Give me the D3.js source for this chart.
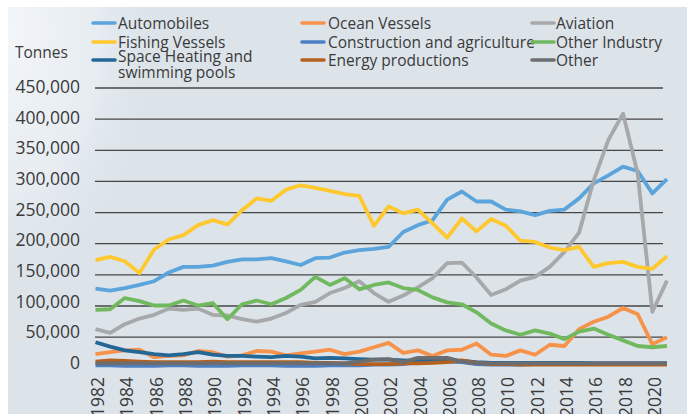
<!DOCTYPE html>
<html>
<head>
<meta charset="utf-8">
<script src="https://cdn.jsdelivr.net/npm/d3@7"></script>
<style>
  body { margin: 0; background: #fff; }
  svg { display: block; font-family: "Open Sans", "Noto Sans", sans-serif; }
</style>
</head>
<body>
<script>
// years 1982 - 2021, values in tonnes
let years = [1982, 1983, 1984, 1985, 1986, 1987, 1988, 1989, 1990, 1991,
  1992, 1993, 1994, 1995, 1996, 1997, 1998, 1999, 2000, 2001,
  2002, 2003, 2004, 2005, 2006, 2007, 2008, 2009, 2010, 2011,
  2012, 2013, 2014, 2015, 2016, 2017, 2018, 2019, 2020, 2021];

let yearLabels = [1982, 1984, 1986, 1988, 1990, 1992, 1994, 1996, 1998, 2000,
  2002, 2004, 2006, 2008, 2010, 2012, 2014, 2016, 2018, 2020];

let yTicks = [0, 50000, 100000, 150000, 200000, 250000, 300000, 350000, 400000, 450000];

let seriesNames = ["Automobiles", "Ocean Vessels", "Aviation", "Fishing Vessels",
  "Construction and agriculture", "Other Industry",
  "Space Heating and swimming pools", "Energy productions", "Other"];

let seriesColors = ["#5ba4dc", "#f7924a", "#a7a8aa", "#fec82e",
  "#4c7fc4", "#71b95f", "#236797", "#b4611f", "#6c6d70"];

// thousands of tonnes
let automobiles = [127, 124, 128, 133, 139, 153, 162, 162, 164, 170, 174, 174, 176, 171, 165, 176, 177, 185, 189, 191,
  194, 218, 229, 237, 270, 283, 267, 267, 254, 251, 245, 252, 254, 272, 296, 309, 323, 316, 280, 303];
let oceanVessels = [22, 25, 28, 29, 17, 19, 20, 27, 25, 18, 20, 27, 26, 20, 23, 26, 29, 22, 26, 33,
  40, 24, 28, 19, 28, 29, 39, 21, 19, 28, 21, 37, 35, 62, 74, 82, 96, 86, 38, 49];
let aviation = [62, 56, 70, 79, 85, 95, 93, 95, 85, 84, 78, 74, 79, 88, 101, 106, 120, 128, 139, 120,
  106, 116, 129, 144, 168, 169, 145, 117, 126, 140, 146, 162, 186, 217, 301, 366, 408, 312, 90, 140];
let fishingVessels = [173, 178, 171, 152, 190, 206, 213, 229, 237, 230, 253, 272, 268, 286, 293, 289, 284, 279, 276, 228,
  259, 248, 254, 232, 209, 240, 219, 239, 228, 204, 202, 193, 189, 194, 162, 168, 170, 162, 159, 179];
let construction = [4, 4, 3, 3, 3, 4, 4, 3, 3, 3, 4, 4, 4, 3, 3, 3, 4, 4, 4, 5,
  5, 6, 9, 10, 10, 9, 6, 5, 5, 5, 6, 6, 6, 7, 7, 7, 7, 7, 7, 7];
let otherIndustry = [93, 94, 112, 107, 100, 100, 108, 100, 104, 78, 102, 108, 102, 112, 125, 146, 133, 144, 126, 133,
  137, 128, 125, 113, 105, 102, 89, 71, 60, 53, 60, 55, 46, 58, 63, 53, 44, 35, 33, 35];
let spaceHeating = [41, 34, 28, 25, 22, 20, 22, 25, 21, 19, 19, 18, 17, 19, 18, 15, 16, 15, 14, 13,
  13, 12, 11, 11, 12, 11, 9, 8, 8, 8, 8, 8, 8, 8, 7, 7, 7, 7, 7, 7];
let energy = [10, 12, 11, 10, 9, 9, 9, 9, 10, 9, 9, 9, 9, 9, 9, 8, 8, 7, 6, 6,
  6, 7, 7, 8, 9, 12, 8, 6, 6, 5, 5, 5, 5, 5, 5, 5, 5, 5, 5, 5];
let other = [7, 7, 7, 7, 7, 7, 7, 7, 7, 7, 7, 7, 7, 7, 7, 7, 7, 7, 10, 13,
  14, 9, 16, 16, 16, 10, 7, 7, 7, 7, 7, 7, 7, 7, 7, 7, 7, 7, 7, 7];

let seriesValues = [automobiles, oceanVessels, aviation, fishingVessels,
  construction, otherIndustry, spaceHeating, energy, other];

let width = 694, height = 414;

let svg = d3.select("body").append("svg")
  .attr("width", width)
  .attr("height", height);

// background panel + a pale haze top left (stands in for the photo)
let defs = svg.append("defs");
let haze = defs.append("radialGradient").attr("id", "haze")
  .attr("cx", "0%").attr("cy", "10%").attr("r", "100%");
haze.append("stop").attr("offset", "0%").attr("stop-color", "#f4f7fa").attr("stop-opacity", 0.95);
haze.append("stop").attr("offset", "60%").attr("stop-color", "#eef2f6").attr("stop-opacity", 0.6);
haze.append("stop").attr("offset", "100%").attr("stop-color", "#dce4ea").attr("stop-opacity", 0);

svg.append("rect").attr("x", 8).attr("y", 7).attr("width", 679).attr("height", 407).attr("fill", "#dce4ea");
svg.append("rect").attr("x", 8).attr("y", 7).attr("width", 150).attr("height", 260).attr("fill", "url(#haze)");

let x = d3.scaleLinear().domain([1982, 2021]).range([95.5, 667]);
let y = d3.scaleLinear().domain([0, 450000]).range([367.8, 87.5]);
// tick labels in the source sit on a slightly tighter spacing than the gridlines
let yLabel = d3.scaleLinear().domain([0, 450000]).range([363, 87]);

// gridlines
let gridLeft = 95, gridRight = 663;
let grid = svg.append("g")
  .attr("transform", "translate(" + gridLeft + ",0)")
  .call(d3.axisLeft(y).tickValues(yTicks.filter(function(d) { return d > 0; })).tickSize(-(gridRight - gridLeft)).tickFormat(""));
grid.select(".domain").remove();
grid.selectAll(".tick line")
  .attr("stroke", "#464646")
  .attr("stroke-width", 1.3);

// y tick labels
let yAxis = svg.append("g")
  .attr("transform", "translate(" + gridLeft + ",0)")
  .call(d3.axisLeft(yLabel).tickValues(yTicks).tickSize(0).tickPadding(15).tickFormat(d3.format(",")));
yAxis.select(".domain").remove();
yAxis.selectAll(".tick text")
  .attr("fill", "#3a3a3a")
  .style("font-size", "17.5px")
  .style("font-family", "'Open Sans', sans-serif");

svg.append("text")
  .attr("x", 15).attr("y", 58)
  .attr("fill", "#3a3a3a")
  .style("font-size", "15.5px")
  .text("Tonnes");

// x labels, rotated
svg.append("g").selectAll("text")
  .data(yearLabels)
  .enter().append("text")
  .attr("transform", function(d) { return "translate(" + (x(d) + 2.5) + ",377) rotate(-90)"; })
  .attr("text-anchor", "end")
  .attr("dy", "0.35em")
  .attr("fill", "#3a3a3a")
  .style("font-size", "17.5px")
  .text(function(d) { return d; });

// lines
let line = d3.line()
  .x(function(d, i) { return x(years[i]); })
  .y(function(d) { return y(d * 1000); });

svg.append("g").selectAll("path")
  .data(seriesValues)
  .enter().append("path")
  .attr("d", line)
  .attr("fill", "none")
  .attr("stroke", function(d, i) { return seriesColors[i]; })
  .attr("stroke-width", 3.8)
  .attr("stroke-linejoin", "round");

// legend, 3 columns
let legendCols = [93, 302, 532];
let legendRows = [23, 42, 60];
let legend = svg.append("g").selectAll("g")
  .data(seriesNames)
  .enter().append("g")
  .attr("transform", function(d, i) {
    return "translate(" + legendCols[i % 3] + "," + legendRows[Math.floor(i / 3)] + ")";
  });

legend.append("line")
  .attr("x1", 0).attr("x2", 22)
  .attr("stroke", function(d, i) { return seriesColors[i]; })
  .attr("stroke-width", 3.6)
  .attr("stroke-linecap", "round");

legend.append("text")
  .attr("x", function(d, i) { return i % 3 === 0 ? 25 : (i % 3 === 1 ? 26 : 24); })
  .attr("fill", "#3a3a3a")
  .style("font-size", "15.5px")
  .each(function(d) {
    let t = d3.select(this);
    if (d === "Space Heating and swimming pools") {
      t.append("tspan").attr("x", 25).attr("y", 2).text("Space Heating and");
      t.append("tspan").attr("x", 25).attr("y", 18).text("swimming pools");
    } else {
      t.attr("y", 5.5).text(d);
    }
  });
</script>
</body>
</html>
